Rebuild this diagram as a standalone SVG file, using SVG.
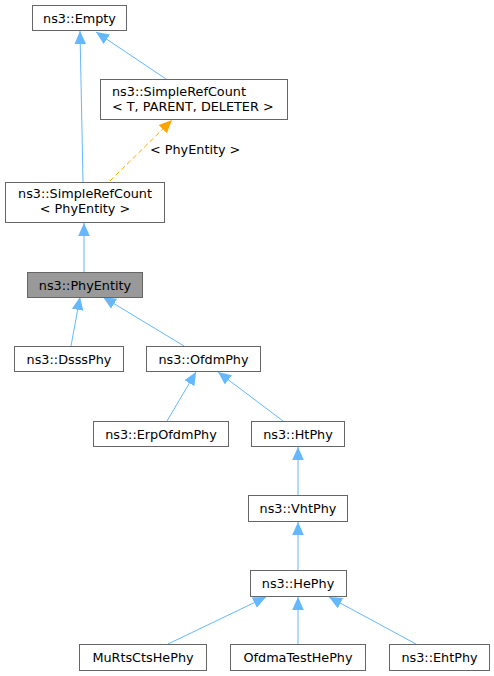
<svg xmlns="http://www.w3.org/2000/svg" width="494" height="676" viewBox="0 0 494 676">
<style>
.n rect{fill:#fff;stroke:#666;stroke-width:1}
.n.hl rect{fill:#999}
text{font-family:"DejaVu Sans",sans-serif;font-size:12.8px;fill:#000}
.c{text-anchor:middle}
.e path{fill:none;stroke:#63b8ff;stroke-width:1;marker-end:url(#ab)}
.e path.d{stroke:#ffa500;stroke-dasharray:5,3;marker-end:url(#ao)}
</style>
<defs>
<marker id="ab" markerUnits="userSpaceOnUse" markerWidth="14" markerHeight="14" viewBox="0 -7 14 14" refX="13" refY="0" orient="auto"><path d="M0,-5.8 L13,0 L0,5.8 z" fill="#63b8ff"/></marker>
<marker id="ao" markerUnits="userSpaceOnUse" markerWidth="14" markerHeight="14" viewBox="0 -7 14 14" refX="13" refY="0" orient="auto"><path d="M0,-5.8 L13,0 L0,5.8 z" fill="#ffa500"/></marker>
</defs>
<g id="connectors" class="e">
<path d="M83,182 L80,31"/>
<path d="M166,79 L96,32"/>
<path class="d" d="M110,181 L172,120"/>
<text x="150" y="154">&lt; PhyEntity &gt;</text>
<path d="M84,272 L84,223"/>
<path d="M71,346 L80,297"/>
<path d="M184,346 L103,297"/>
<path d="M167,421 L196,372"/>
<path d="M283,421 L218,372"/>
<path d="M298,495 L298,447"/>
<path d="M298,570 L298,522"/>
<path d="M168,644 L266,597"/>
<path d="M298,644 L298,597"/>
<path d="M416,644 L329,597"/>
</g>
<g id="empty" class="n"><rect x="32.5" y="5.5" width="94" height="25"/><text class="c" x="79.5" y="22.5">ns3::Empty</text></g>
<g id="srcTPD" class="n"><rect x="100.5" y="79.5" width="187" height="40"/><text x="112" y="96">ns3::SimpleRefCount</text><text x="112" y="111">&lt; T, PARENT, DELETER &gt;</text></g>
<g id="srcPhy" class="n"><rect x="5.5" y="182.5" width="159" height="40"/><text class="c" x="85" y="198">ns3::SimpleRefCount</text><text class="c" x="85" y="213">&lt; PhyEntity &gt;</text></g>
<g id="phyentity" class="n hl"><rect x="27.5" y="272.5" width="115" height="25"/><text class="c" x="85" y="289.5">ns3::PhyEntity</text></g>
<g id="dsss" class="n"><rect x="14.5" y="346.5" width="109" height="25"/><text class="c" x="69" y="363.5">ns3::DsssPhy</text></g>
<g id="ofdm" class="n"><rect x="146.5" y="346.5" width="114" height="25"/><text class="c" x="203.5" y="363.5">ns3::OfdmPhy</text></g>
<g id="erp" class="n"><rect x="93.5" y="421.5" width="135" height="25"/><text class="c" x="161" y="438.5">ns3::ErpOfdmPhy</text></g>
<g id="ht" class="n"><rect x="251.5" y="421.5" width="93" height="25"/><text class="c" x="298" y="438.5">ns3::HtPhy</text></g>
<g id="vht" class="n"><rect x="248.5" y="495.5" width="99" height="26"/><text class="c" x="298" y="513">ns3::VhtPhy</text></g>
<g id="he" class="n"><rect x="250.5" y="570.5" width="96" height="26"/><text class="c" x="298" y="588">ns3::HePhy</text></g>
<g id="murts" class="n"><rect x="79.5" y="644.5" width="127" height="26"/><text class="c" x="143" y="662">MuRtsCtsHePhy</text></g>
<g id="ofdmatest" class="n"><rect x="230.5" y="644.5" width="135" height="26"/><text class="c" x="298" y="662">OfdmaTestHePhy</text></g>
<g id="eht" class="n"><rect x="389.5" y="644.5" width="100" height="26"/><text class="c" x="439.5" y="662">ns3::EhtPhy</text></g>
</svg>
